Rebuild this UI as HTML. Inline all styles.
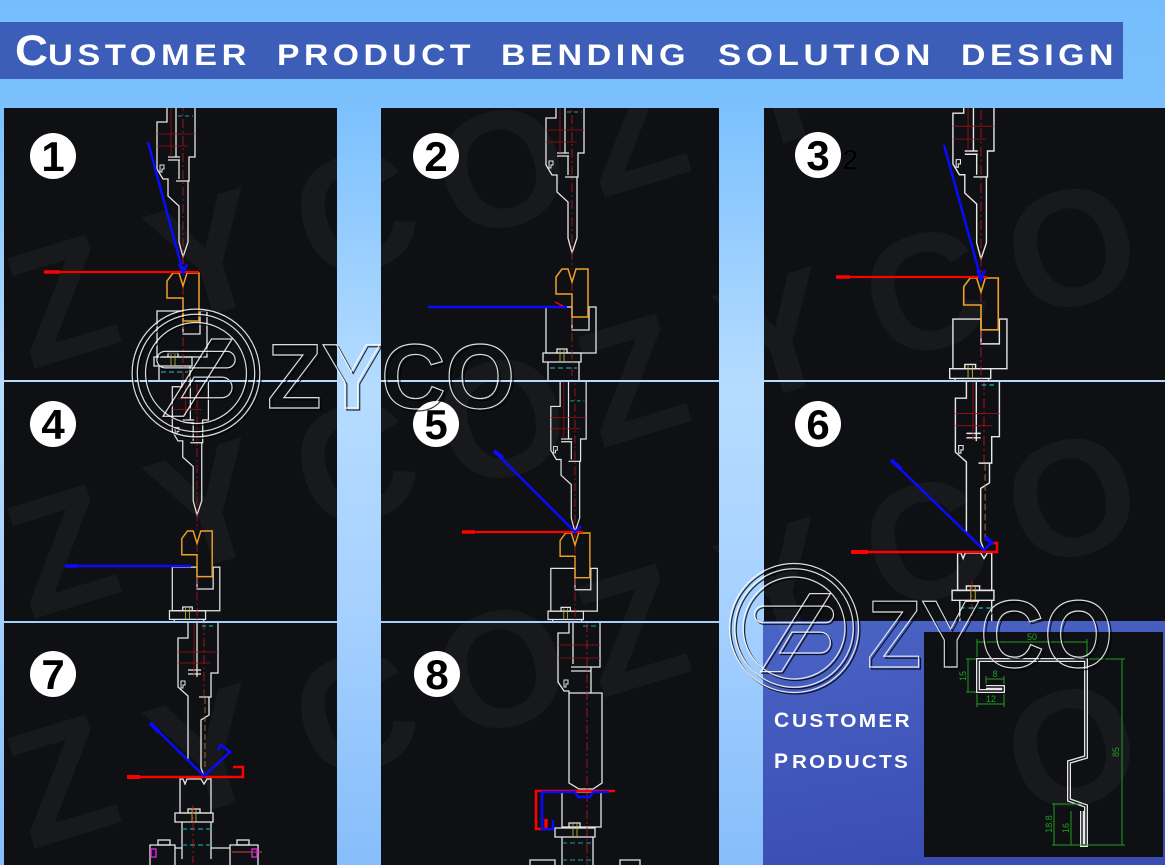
<!DOCTYPE html>
<html><head><meta charset="utf-8">
<style>html,body{margin:0;padding:0;width:1165px;height:865px;background:#7cc0fd;overflow:hidden}svg{display:block}</style>
</head><body>
<svg width="1165" height="865" viewBox="0 0 1165 865" xmlns="http://www.w3.org/2000/svg" xmlns:xlink="http://www.w3.org/1999/xlink" font-family="'Liberation Sans', sans-serif" overflow="hidden">
<defs>
<linearGradient id="bg" x1="0" y1="0" x2="0" y2="1">
<stop offset="0" stop-color="#75bdfd"/><stop offset="0.12" stop-color="#7bc0fd"/><stop offset="0.45" stop-color="#b6dcff"/><stop offset="0.7" stop-color="#a6d1ff"/><stop offset="1" stop-color="#86bdfa"/>
</linearGradient>
<linearGradient id="bl" x1="0" y1="0" x2="0.3" y2="1">
<stop offset="0" stop-color="#4a64c4"/><stop offset="1" stop-color="#3a4db3"/>
</linearGradient>
<clipPath id="cAll">
<rect x="4" y="108" width="333" height="272"/><rect x="381" y="108" width="338" height="272"/><rect x="764" y="108" width="401" height="272"/>
<rect x="4" y="382" width="333" height="239"/><rect x="381" y="382" width="338" height="239"/><rect x="764" y="382" width="401" height="239"/>
<rect x="4" y="623" width="333" height="242"/><rect x="381" y="623" width="338" height="242"/><rect x="763" y="621" width="402" height="244"/>
</clipPath>
<clipPath id="c1"><rect x="4" y="108" width="333" height="272"/></clipPath>
<clipPath id="c2"><rect x="381" y="108" width="338" height="272"/></clipPath>
<clipPath id="c3"><rect x="764" y="108" width="401" height="272"/></clipPath>
<clipPath id="c4"><rect x="4" y="382" width="333" height="239"/></clipPath>
<clipPath id="c5"><rect x="381" y="382" width="338" height="239"/></clipPath>
<clipPath id="c6"><rect x="764" y="382" width="401" height="239"/></clipPath>
<clipPath id="c7"><rect x="4" y="623" width="333" height="242"/></clipPath>
<clipPath id="c8"><rect x="381" y="623" width="338" height="242"/></clipPath>

<g id="pA" fill="none" stroke="#e6e6e6" stroke-width="1.3">
<path d="M-16,-240V-135H-26V-88L-20,-78H-15V-61L-4,-51V-15L0,0L5,-15V-76H6V-100H12V-240"/>
<path d="M-7,-240V-100M-15,-100H-3M-15,-97H-3M-7,-76H5M-4,-97V-78"/>
<path d="M-23,-92h4v4h-2v3h-2z" stroke-width="1"/>
<path d="M-26,-123H12M-26,-111H5M-12,-240V-100" stroke="#a01010" stroke-width=".8"/>
<path d="M0,-240V16" stroke="#c01818" stroke-width=".8" stroke-dasharray="9 3 2 3"/>
<path d="M-5,-141H10" stroke="#18a0a0" stroke-dasharray="4 3" stroke-width="1"/>
</g>
<g id="dA" fill="none" stroke="#e6e6e6" stroke-width="1.3">
<path d="M-26,38H0V61H17V38H24V84H-26Z"/>
<path d="M-29,84H9V93H-29Z"/>
<path d="M-15,84V80H-5V84"/>
<path d="M-12,81V93M-8,81V93" stroke="#c8c040" stroke-width=".8"/>
<path d="M-24,93V140M7,93V140"/>
<path d="M-22,99H5" stroke="#18a0a0" stroke-dasharray="5 3"/>
<path d="M0,13V140" stroke="#c01818" stroke-width=".8" stroke-dasharray="9 3 2 3"/>
<path d="M-16,8L-10,0H-4L0,13L4,0H16V48H0V25H-16Z" stroke="#f0a028" stroke-width="1.5"/>
</g>
<g id="pB" fill="none" stroke="#e6e6e6" stroke-width="1.3">
<path d="M-16,-240V-138H-26V-89L-16,-80V-16L0,0"/>
<path d="M14,-240V-103H7V-79H-5M5,-79V-61L-3,-56V-8L0,0"/>
<path d="M-7,-240V-99M-16,-106H-3M-16,-102H-3"/>
<path d="M-23,-95h4v4h-2v3h-2z" stroke-width="1"/>
<path d="M-26,-124H14M-26,-113H7M-10,-240V-100" stroke="#a01010" stroke-width=".8"/>
<path d="M0,-240V-80" stroke="#c01818" stroke-width=".8" stroke-dasharray="9 3 2 3"/>
<path d="M1,-78V-6" stroke="#b08020" stroke-width=".8" stroke-dasharray="6 3"/>
<path d="M-2,-150H12" stroke="#18a0a0" stroke-dasharray="4 3"/>
</g>
<g id="dB" fill="none" stroke="#e6e6e6" stroke-width="1.3">
<path d="M-24,0H-21L-19,5L-17,0H-3L0,5L3,0H7V34H-24Z"/>
<path d="M-29,34H9V43H-29Z"/>
<path d="M-16,34V30H-4V34"/>
<path d="M-12,30V43M-8,30V43" stroke="#c8c040" stroke-width=".8"/>
<path d="M-22,43V80M7,43V80"/>
<path d="M-22,50H7M-22,66H7" stroke="#18a0a0" stroke-dasharray="5 3"/>
<path d="M-11,26V84" stroke="#c01818" stroke-width=".8" stroke-dasharray="9 3 2 3"/>
</g>
<g id="emb" fill="none">
<circle r="62"/><circle r="57"/><circle r="49"/>
<path d="M-30,-21H30a8,8 0 0 1 0,16H-30a8,8 0 0 1 0,-16Z"/>
<path d="M15,-33L35,-33L-12,42L-32,42Z"/>
<path d="M-2,4H25a10,10 0 0 1 0,20H-14Z"/>
</g>
</defs>

<rect width="1165" height="865" fill="url(#bg)"/>

<!-- title -->
<rect x="0" y="22" width="1123" height="57" fill="#3c5db8"/>
<g fill="#ffffff" font-weight="bold">
<text x="15" y="65" font-size="43" textLength="33" lengthAdjust="spacingAndGlyphs">C</text>
<text x="48" y="65" font-size="30" letter-spacing="4" textLength="203" lengthAdjust="spacingAndGlyphs">USTOMER</text>
<text x="277" y="65" font-size="30" letter-spacing="4" textLength="198" lengthAdjust="spacingAndGlyphs">PRODUCT</text>
<text x="501" y="65" font-size="30" letter-spacing="4" textLength="189" lengthAdjust="spacingAndGlyphs">BENDING</text>
<text x="718" y="65" font-size="30" letter-spacing="4" textLength="217" lengthAdjust="spacingAndGlyphs">SOLUTION</text>
<text x="961" y="65" font-size="30" letter-spacing="4" textLength="157" lengthAdjust="spacingAndGlyphs">DESIGN</text>
</g>

<!-- panels -->
<g fill="#0e1014">
<rect x="4" y="108" width="333" height="272"/><rect x="381" y="108" width="338" height="272"/><rect x="764" y="108" width="401" height="272"/>
<rect x="4" y="382" width="333" height="239"/><rect x="381" y="382" width="338" height="239"/><rect x="764" y="382" width="401" height="239"/>
<rect x="4" y="623" width="333" height="242"/><rect x="381" y="623" width="338" height="242"/>
</g>
<rect x="763" y="621" width="402" height="244" fill="url(#bl)"/>
<rect x="924" y="632" width="239" height="225" fill="#0e1014"/>

<!-- faint watermark -->
<g clip-path="url(#cAll)" fill="#ffffff" fill-opacity="0.04" font-weight="bold" font-size="165">
<text transform="translate(30,370) rotate(-17)">Z</text><text transform="translate(172,327) rotate(-17)">Y</text><text transform="translate(315,285) rotate(-17)">C</text><text transform="translate(457,242) rotate(-17)">O</text><text transform="translate(600,199) rotate(-17)">Z</text><text transform="translate(742,156) rotate(-17)">Y</text><text transform="translate(885,114) rotate(-17)">C</text><text transform="translate(1027,71) rotate(-17)">O</text>
<text transform="translate(30,620) rotate(-17)">Z</text><text transform="translate(172,577) rotate(-17)">Y</text><text transform="translate(315,535) rotate(-17)">C</text><text transform="translate(457,492) rotate(-17)">O</text><text transform="translate(600,449) rotate(-17)">Z</text><text transform="translate(742,406) rotate(-17)">Y</text><text transform="translate(885,364) rotate(-17)">C</text><text transform="translate(1027,321) rotate(-17)">O</text>
<text transform="translate(30,850) rotate(-17)">Z</text><text transform="translate(172,822) rotate(-17)">Y</text><text transform="translate(315,785) rotate(-17)">C</text><text transform="translate(457,742) rotate(-17)">O</text><text transform="translate(600,699) rotate(-17)">Z</text><text transform="translate(742,656) rotate(-17)">Y</text><text transform="translate(885,614) rotate(-17)">C</text><text transform="translate(1027,571) rotate(-17)">O</text>
<text transform="translate(1027,821) rotate(-17)">O</text>
</g>

<!-- P1 -->
<g clip-path="url(#c1)">
<use xlink:href="#pA" href="#pA" transform="translate(183,257)"/>
<use xlink:href="#dA" href="#dA" transform="translate(183,273)"/>
<path d="M44,272H199" stroke="#ff0000" stroke-width="2.2"/>
<path d="M44,272H60" stroke="#ff0000" stroke-width="3.5"/>
<path d="M148,142L183,272M179,264L183,273L187,264" stroke="#0a0aff" stroke-width="2.5" fill="none"/>
</g>
<!-- P2 -->
<g clip-path="url(#c2)">
<use xlink:href="#pA" href="#pA" transform="translate(572,253)"/>
<use xlink:href="#dA" href="#dA" transform="translate(572,269)"/>
<path d="M428,307H567" stroke="#0a0aff" stroke-width="2.5"/>
<path d="M555,302L563,306" stroke="#ff0000" stroke-width="1.5"/>
</g>
<!-- P3 -->
<g clip-path="url(#c3)">
<use xlink:href="#pA" href="#pA" transform="translate(981,259) scale(1.08)"/>
<use xlink:href="#dA" href="#dA" transform="translate(981,278) scale(1.08)"/>
<path d="M836,277H987" stroke="#ff0000" stroke-width="2.2"/>
<path d="M836,277H850" stroke="#ff0000" stroke-width="3.5"/>
<path d="M944,145L981,279M977,270L981,280L985,270" stroke="#0a0aff" stroke-width="2.5" fill="none"/>
</g>
<!-- P4 -->
<g clip-path="url(#c4)">
<use xlink:href="#pA" href="#pA" transform="translate(197,515) scale(0.95)"/>
<use xlink:href="#dA" href="#dA" transform="translate(197,531) scale(0.95)"/>
<path d="M65,566H191" stroke="#0a0aff" stroke-width="2.5"/>
<path d="M65,566H78" stroke="#0a0aff" stroke-width="3.5"/>
</g>
<!-- P5 -->
<g clip-path="url(#c5)">
<use xlink:href="#pA" href="#pA" transform="translate(575,532) scale(0.93)"/>
<use xlink:href="#dA" href="#dA" transform="translate(575,533) scale(0.93)"/>
<path d="M462,532H583" stroke="#ff0000" stroke-width="2.2"/>
<path d="M462,532H475" stroke="#ff0000" stroke-width="3.5"/>
<path d="M494,451L575,532L581,526" stroke="#0a0aff" stroke-width="2.5" fill="none"/>
<path d="M494,451L503,458" stroke="#0a0aff" stroke-width="4"/>
</g>
<!-- P6 -->
<g clip-path="url(#c6)">
<use xlink:href="#pB" href="#pB" transform="translate(984,550) scale(1.1)"/>
<use xlink:href="#dB" href="#dB" transform="translate(984,553) scale(1.1)"/>
<path d="M851,552H997V543H992" stroke="#ff0000" stroke-width="2.5" fill="none"/>
<path d="M851,552H868" stroke="#ff0000" stroke-width="4"/>
<path d="M891,460L984,550L991,543" stroke="#0a0aff" stroke-width="2.5" fill="none"/>
<path d="M891,460L901,469M985,537L993,544" stroke="#0a0aff" stroke-width="4"/>
</g>
<!-- P7 -->
<g clip-path="url(#c7)">
<use xlink:href="#pB" href="#pB" transform="translate(204,776)"/>
<use xlink:href="#dB" href="#dB" transform="translate(204,779)"/>
<g fill="none" stroke="#e6e6e6" stroke-width="1.3">
<path d="M182,848H175M211,848H230"/>
<path d="M150,865V845H175V865"/><rect x="158" y="840" width="12" height="5"/>
<path d="M230,865V845H258V865"/><rect x="237" y="840" width="12" height="5"/>
</g>
<path d="M232,852H262" stroke="#e04040" stroke-width="1"/>
<rect x="151" y="849" width="5" height="8" fill="none" stroke="#d020d0" stroke-width="1.5"/>
<rect x="252" y="849" width="5" height="8" fill="none" stroke="#d020d0" stroke-width="1.5"/>
<path d="M127,777H243V767H233" stroke="#ff0000" stroke-width="2.5" fill="none"/>
<path d="M127,777H140" stroke="#ff0000" stroke-width="4"/>
<path d="M150,723L204,776L230,752L221,745L218,750" stroke="#0a0aff" stroke-width="2.5" fill="none"/>
<path d="M150,723L159,732" stroke="#0a0aff" stroke-width="4"/>
</g>
<!-- P8 -->
<g clip-path="url(#c8)">
<g fill="none" stroke="#e6e6e6" stroke-width="1.3">
<path d="M569,623V633H558V682L564,691H569V783L579,789H593L602,783V693H591V667H600V623"/>
<path d="M569,693H591M573,623V664M571,667H591M571,671H591"/>
<path d="M564,680h4v4h-2v3h-2z" stroke-width="1"/>
<rect x="562" y="792" width="39" height="35"/>
<rect x="555" y="828" width="40" height="9"/>
<path d="M569,828V823H580V828"/>
<path d="M562,837V865M593,837V865"/>
<path d="M530,865V860H555V865M620,865V860H640V865"/>
</g>
<path d="M573,823V837M577,823V837" stroke="#c8c040" stroke-width=".8"/>
<path d="M558,645H600M558,658H600" stroke="#a01010" stroke-width=".8"/>
<path d="M583,626H600M562,843H593M562,860H593" stroke="#18a0a0" stroke-width="1" stroke-dasharray="5 3"/>
<path d="M587,623V865" stroke="#c01818" stroke-width=".8" stroke-dasharray="9 3 2 3"/>
<path d="M615,791H536V829H546" stroke="#ff0000" stroke-width="2.5" fill="none"/>
<path d="M546,829V819" stroke="#ff0000" stroke-width="3.5"/>
<path d="M609,792H593L590,797H578L575,792H542V829H553V820" stroke="#0a0aff" stroke-width="2.5" fill="none"/>
</g>

<!-- number badges -->
<g fill="#ffffff">
<circle cx="53" cy="156" r="23"/><circle cx="436" cy="156" r="23"/><circle cx="818" cy="155" r="23"/>
<circle cx="53" cy="424" r="23"/><circle cx="436" cy="424" r="23"/><circle cx="818" cy="424" r="23"/>
<circle cx="53" cy="674" r="23"/><circle cx="437" cy="674" r="23"/>
</g>
<g fill="#000000" font-weight="bold" font-size="42" text-anchor="middle">
<text x="53" y="171">1</text><text x="436" y="171">2</text><text x="818" y="170">3</text>
<text x="53" y="439">4</text><text x="436" y="439">5</text><text x="818" y="439">6</text>
<text x="53" y="689">7</text><text x="437" y="689">8</text>
</g>
<text x="842" y="170" font-size="30" font-weight="bold" fill="#000" stroke="#15171a" stroke-width="1">2</text>

<!-- P9 customer products -->
<g fill="#ffffff" font-weight="bold">
<text x="774" y="727" font-size="21">C</text>
<text x="792" y="727" font-size="18" letter-spacing="2" textLength="120" lengthAdjust="spacingAndGlyphs">USTOMER</text>
<text x="774" y="768" font-size="21">P</text>
<text x="792" y="768" font-size="18" letter-spacing="2" textLength="118" lengthAdjust="spacingAndGlyphs">RODUCTS</text>
</g>
<path d="M986,687H1003V691H978V660H1086V757L1069,762V800L1086,806V845H1082V811" fill="none" stroke="#e8e8e8" stroke-width="4"/>
<path d="M986,687H1003V691H978V660H1086V757L1069,762V800L1086,806V845H1082V811" fill="none" stroke="#0e1014" stroke-width="1.4"/>
<g fill="none" stroke="#1fa01f" stroke-width="1">
<path d="M977,657V639M1087,657V639M977,642H1087"/>
<path d="M966,659H976M966,692H976M968,659V692"/>
<path d="M986,684V676M1004,684V676M986,679H1004"/>
<path d="M977,694V707M1004,694V707M977,704H1004"/>
<path d="M1089,659H1125M1052,845H1125M1122,659V845"/>
<path d="M1052,804H1083M1054,804V845"/>
<path d="M1071,811V845"/>
</g>
<g fill="#1fa01f" font-size="9" text-anchor="middle">
<text x="1032" y="640">50</text>
<text x="995" y="677">8</text>
<text x="991" y="702">12</text>
<text transform="translate(966,676) rotate(-90)">15</text>
<text transform="translate(1119,752) rotate(-90)">85</text>
<text transform="translate(1052,824) rotate(-90)">18.8</text>
<text transform="translate(1069,828) rotate(-90)">16</text>
</g>

<!-- ZYCO logos -->
<g stroke-width="1.2">
<use xlink:href="#emb" href="#emb" transform="translate(197.5,374.5) scale(1.03)" stroke="#000000" stroke-opacity="0.8"/>
<use xlink:href="#emb" href="#emb" transform="translate(196,373) scale(1.03)" stroke="#ffffff" stroke-opacity="0.85"/>
<text x="269" y="410" font-size="92" font-weight="bold" textLength="248" lengthAdjust="spacingAndGlyphs" fill="none" stroke="#000000" stroke-opacity="0.8" stroke-width="1.2">ZYCO</text>
<text x="267" y="408" font-size="92" font-weight="bold" textLength="248" lengthAdjust="spacingAndGlyphs" fill="none" stroke="#ffffff" stroke-opacity="0.85" stroke-width="1.2">ZYCO</text>

<use xlink:href="#emb" href="#emb" transform="translate(795.5,629.5) scale(1.04)" stroke="#000000" stroke-opacity="0.8"/>
<use xlink:href="#emb" href="#emb" transform="translate(794,628) scale(1.04)" stroke="#ffffff" stroke-opacity="0.85"/>
<text x="869" y="669" font-size="96" font-weight="bold" textLength="246" lengthAdjust="spacingAndGlyphs" fill="none" stroke="#000000" stroke-opacity="0.8" stroke-width="1.2">ZYCO</text>
<text x="867" y="667" font-size="96" font-weight="bold" textLength="246" lengthAdjust="spacingAndGlyphs" fill="none" stroke="#ffffff" stroke-opacity="0.85" stroke-width="1.2">ZYCO</text>
</g>
</svg>
</body></html>
